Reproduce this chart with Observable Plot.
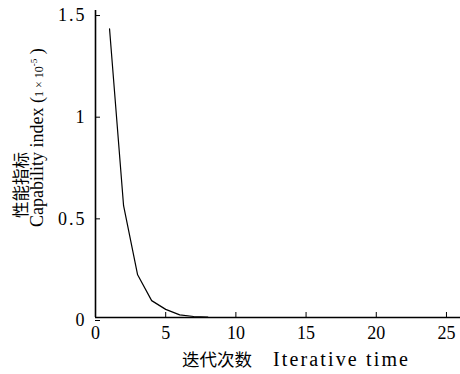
<!DOCTYPE html>
<html>
<head>
<meta charset="utf-8">
<script src="https://cdn.jsdelivr.net/npm/d3@7"></script>
<script src="https://cdn.jsdelivr.net/npm/@observablehq/plot@0.6"></script>
<style>
  html, body { margin: 0; padding: 0; background: #fff; }
</style>
</head>
<body>
<div id="chart"></div>
<script>
const iterations = [1, 2, 3, 4, 5, 6, 7, 8];
const capability = [1.42, 0.55, 0.21, 0.083, 0.04, 0.013, 0.005, 0.002];
const xTicks = [0, 5, 10, 15, 20, 25];
const yTicks = [0, 0.5, 1, 1.5];
const yTickLabels = ["0", "0.5", "1", "1.5"];

const data = iterations.map((x, i) => ({x, y: capability[i]}));
const serif = "'Liberation Serif', 'Times New Roman', serif";

const chart = Plot.plot({
  width: 460,
  height: 374,
  marginLeft: 95,
  marginRight: 0,
  marginTop: 10,
  marginBottom: 57,
  style: "font-family: 'Liberation Serif', serif; font-size: 17px; background: #fff; color: #000;",
  x: {domain: [0, 26]},
  y: {domain: [0, 1.51]},
  marks: [
    Plot.axisX({ticks: xTicks, tickSize: -5, tickPadding: 14, label: null, tickFormat: d => String(d), fontSize: 18}),
    Plot.axisY({ticks: yTicks, tickSize: -5, tickPadding: 14, label: null, tickFormat: d => yTickLabels[yTicks.indexOf(d)], fontSize: 18, dy: 3}),
    Plot.ruleX([0], {stroke: "#000", strokeWidth: 1.6}),
    Plot.ruleY([0], {stroke: "#000", strokeWidth: 1.6}),
    Plot.line(data, {x: "x", y: "y", stroke: "#000", strokeWidth: 1.2})
  ]
});

document.getElementById("chart").appendChild(chart);

const svg = d3.select(chart);
svg.selectAll("g[aria-label='y-axis tick label'] text")
  .style("letter-spacing", "2px");

// x-axis title
svg.append("text")
  .attr("x", 182).attr("y", 366)
  .attr("text-anchor", "start")
  .attr("font-family", "'Noto Sans CJK SC', sans-serif")
  .attr("font-size", 17.5)
  .attr("fill", "#000")
  .text("迭代次数");
svg.append("text")
  .attr("x", 273).attr("y", 366)
  .attr("text-anchor", "start")
  .attr("font-family", serif)
  .attr("font-size", 20)
  .attr("fill", "#000")
  .attr("textLength", 135)
  .attr("lengthAdjust", "spacing")
  .text("Iterative time");

// y-axis title, Chinese line
svg.append("text")
  .attr("transform", "translate(27,218) rotate(-90)")
  .attr("text-anchor", "start")
  .attr("font-family", "'Noto Sans CJK SC', sans-serif")
  .attr("font-size", 16.5)
  .attr("fill", "#000")
  .text("性能指标");

// y-axis title, English line
svg.append("text")
  .attr("transform", "translate(43,227) rotate(-90)")
  .attr("text-anchor", "start")
  .attr("font-family", serif)
  .attr("font-size", 18)
  .attr("fill", "#000")
  .call(t => {
    t.append("tspan").text("Capability index (");
    t.append("tspan").attr("font-size", 12).text("1 × 10");
    t.append("tspan").attr("font-size", 9).attr("dy", -6).text("-5");
    t.append("tspan").attr("dy", 6).text(" )");
  });
</script>
</body>
</html>
